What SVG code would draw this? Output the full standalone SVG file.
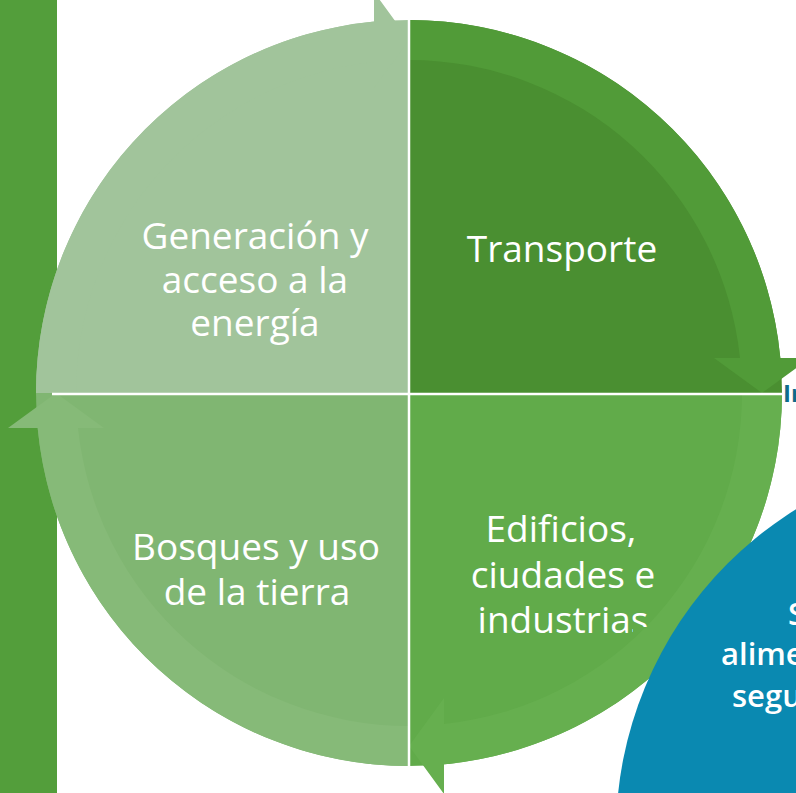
<svg xmlns="http://www.w3.org/2000/svg" width="796" height="793" viewBox="0 0 796 793">
<style>
.lbl{font-family:"Open Sans","Noto Sans","Liberation Sans",sans-serif;font-size:37px;fill:#fff;text-anchor:middle;font-weight:400}
.blu{font-family:"Open Sans","Noto Sans","Liberation Sans",sans-serif;font-size:31px;fill:#fff;font-weight:600}
.sep{stroke:#fff;stroke-width:2.5;fill:none}
</style>
<defs>
<clipPath id="clipInd"><polygon points="400,590 633,590 633,640 400,640"/><polygon points="633,590 700,590 700,627 633,627"/></clipPath>
</defs>
<rect id="leftbar" x="0" y="0" width="57" height="793" fill="#539E3B"/>
<g id="q-energia">
<path d="M409,393 L36,393 A373,373 0 0 1 409,20 Z" fill="#A1C49B"/>
<path d="M36,393 A373,373 0 0 1 374,21.6 L374,-8 L409,40 L374,88 L374,62 A333,333 0 0 0 76,393 Z" fill="#A1C49B"/>
<text class="lbl" x="255" y="249">Generación y</text>
<text class="lbl" x="255" y="293">acceso a la</text>
<text class="lbl" x="255" y="336">energía</text>
</g>
<g id="q-transporte">
<path d="M409,393 L409,20 A373,373 0 0 1 782,393 Z" fill="#4A8F31"/>
<path d="M409,20 A373,373 0 0 1 780.3,358 L810,358 L762,393 L714,358 L740,358 A333,333 0 0 0 409,60 Z" fill="#519B38"/>
<text class="lbl" x="562" y="262">Transporte</text>
</g>
<g id="q-edificios">
<path d="M409,393 L782,393 A373,373 0 0 1 409,766 Z" fill="#61AB4A"/>
<path d="M782,393 A373,373 0 0 1 444,764.3 L444,794 L409,746 L444,698 L444,724 A333,333 0 0 0 742,393 Z" fill="#66AF4F"/>
<g clip-path="url(#clipInd)">
<text class="lbl" x="563" y="633">industrias</text>
</g>
<text class="lbl" x="561" y="542">Edificios,</text>
<text class="lbl" x="563" y="588">ciudades e</text>
</g>
<g id="q-bosques">
<path d="M409,766 A373,373 0 0 1 36,393 L409,393 Z" fill="#80B672"/>
<path d="M409,766 A373,373 0 0 1 37.7,428 L8,428 L56,393 L104,428 L78,428 A333,333 0 0 0 409,726 Z" fill="#86BA78"/>
<text class="lbl" x="256" y="560">Bosques y uso</text>
<text class="lbl" x="257" y="605">de la tierra</text>
</g>
<g id="connectors">
<line class="sep" x1="409" y1="18" x2="409" y2="768"/>
<line class="sep" x1="52" y1="394" x2="790" y2="394"/>
</g>
<g id="blue-node">
<circle cx="997" cy="833" r="381" fill="#0A89B1"/>
<text class="blu" x="788" y="625">S</text>
<text class="blu" x="721" y="665">alime</text>
<text class="blu" x="732" y="707">segu</text>
</g>
<g id="edge-label">
<text x="783" y="402" font-family="Open Sans, Noto Sans, Liberation Sans, sans-serif" font-size="24" font-weight="700" fill="#0E6B8C">In</text>
</g>
</svg>
